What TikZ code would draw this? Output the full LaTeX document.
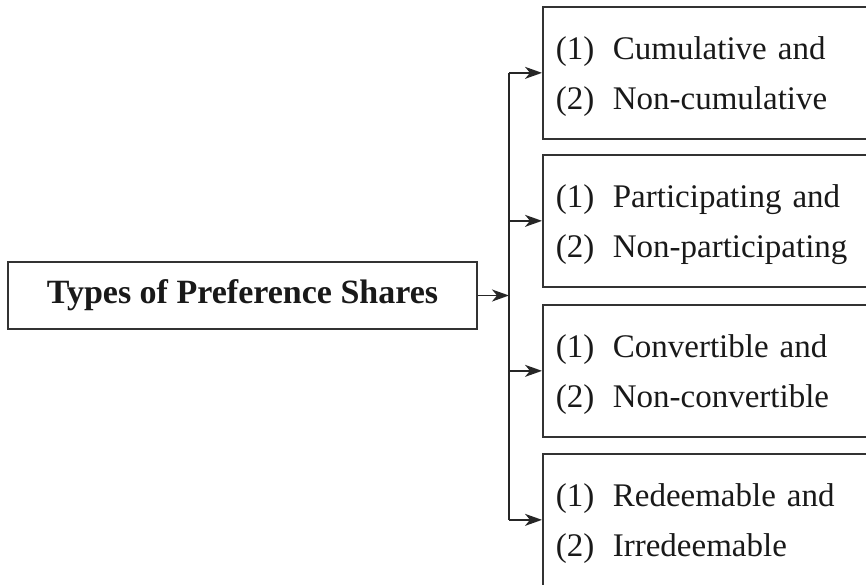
\documentclass[tikz,border=0pt]{standalone}
\usepackage{fontspec}
\setmainfont{Liberation Serif}
\usetikzlibrary{arrows.meta}

\begin{document}
\begin{tikzpicture}[x=1pt,y=-1pt,auto]
        \tikzset{>={Stealth[length=17pt,width=12pt,inset=5pt]}}
        \tikzstyle{link}=[line width=1.7pt,draw=black!85]
        \tikzstyle{typebox}=[rectangle,draw=black!80,line width=1.7pt,inner sep=0pt,text=black!90]
        \tikzstyle{mainbox}=[typebox,minimum width=469pt,minimum height=67pt,font=\fontsize{34}{40}\selectfont\bfseries]
        \tikzstyle{subbox}=[typebox,anchor=north west,minimum height=132pt,text width=340pt,inner xsep=13pt,align=left,font=\fontsize{33}{50}\selectfont,execute at begin node={\rule{0pt}{31pt}}]

        \useasboundingbox (0,0) rectangle (866,584);
        \clip (0,0) rectangle (866,584);

        \node[mainbox] (main) at (242.5,295.5) {Types of Preference Shares};

        \node[subbox] (b1) at (542,6) {\makebox[57pt][l]{(1)}Cumulative and\\\makebox[57pt][l]{(2)}Non-cumulative};
        \node[subbox] (b2) at (542,154) {\makebox[57pt][l]{(1)}Participating and\\\makebox[57pt][l]{(2)}Non-participating};
        \node[subbox] (b3) at (542,304) {\makebox[57pt][l]{(1)}Convertible and\\\makebox[57pt][l]{(2)}Non-convertible};
        \node[subbox] (b4) at (542,453) {\makebox[57pt][l]{(1)}Redeemable and\\\makebox[57pt][l]{(2)}Irredeemable};

        \coordinate (fork) at (509,295.5);
        \coordinate (top) at (fork |- b1.west);
        \coordinate (bot) at (fork |- b4.west);

        \draw[link] (top) -- (bot);
        \draw[link,->] (main.east) -- (fork);
        \draw[link,->] (top) -- (b1.west);
        \draw[link,->] (fork |- b2.west) -- (b2.west);
        \draw[link,->] (fork |- b3.west) -- (b3.west);
        \draw[link,->] (bot) -- (b4.west);
    \end{tikzpicture}
\end{document}
